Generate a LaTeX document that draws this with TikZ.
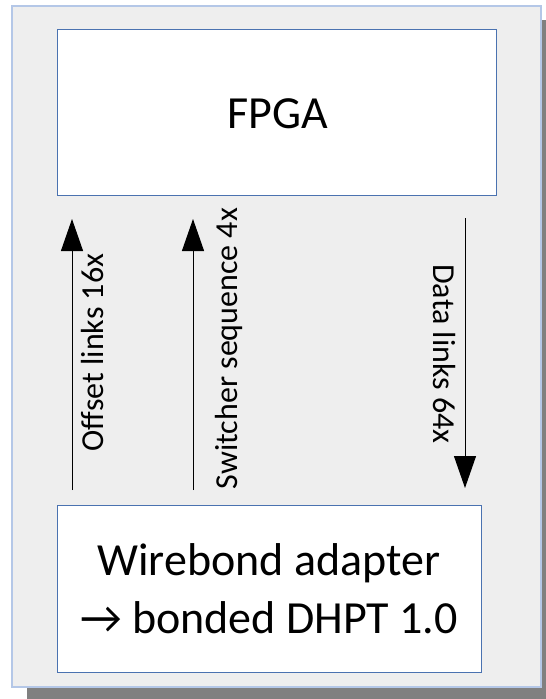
\documentclass[tikz,border=0pt]{standalone}
\usepackage{fontspec}
\setmainfont{Carlito}
\usetikzlibrary{arrows.meta}
\definecolor{bgfill}{HTML}{EEEEEE}
\definecolor{outerline}{HTML}{B4C7E7}
\definecolor{innerline}{HTML}{4A72B0}
\definecolor{shadowgray}{HTML}{808080}
\tikzset{
  blockbox/.style={draw=innerline, line width=1pt, fill=white, inner sep=0pt},
  bigtext/.style={font=\fontsize{46}{58}\selectfont, inner sep=0pt},
  labeltext/.style={font=\fontsize{32}{38}\selectfont, inner sep=0pt, anchor=base},
  linkarrow/.style={line width=1pt, -{Triangle[width=22pt,length=32pt]}}
}
\begin{document}
\begin{tikzpicture}[x=1pt,y=-1pt]
\useasboundingbox (0,0) rectangle (546,699);
\fill[shadowgray] (27,20) rectangle (546,699);
\node[draw=outerline, line width=1.5pt, fill=bgfill, minimum width=529pt, minimum height=681pt, inner sep=0pt] (frame) at (276.5,346.5) {};
\node[blockbox, minimum width=439pt, minimum height=166pt] (fpga) at (276.5,112) {};
\node[bigtext, anchor=base] (fpgatext) at (277.5,128) {FPGA};
\node[blockbox, minimum width=424pt, minimum height=167pt] (wb) at (269,588.5) {};
\node[bigtext, anchor=base, align=center] (wbtext) at (269,633) {Wirebond adapter\\ → bonded DHPT 1.0};
\coordinate (o1) at (72,490);
\coordinate (o2) at (72,219);
\coordinate (s1) at (193,490);
\coordinate (s2) at (193,219);
\coordinate (d1) at (465,218);
\coordinate (d2) at (465,488);
\draw[linkarrow] (o1) -- (o2);
\draw[linkarrow] (s1) -- (s2);
\draw[linkarrow] (d1) -- (d2);
\node[labeltext, rotate=90] (olab) at (103,352.5) {Offset links 16x};
\node[labeltext, rotate=90] (slab) at (237,348.5) {Switcher sequence 4x};
\node[labeltext, rotate=-90] (dlab) at (433,354) {Data links 64x};
\end{tikzpicture}
\end{document}
